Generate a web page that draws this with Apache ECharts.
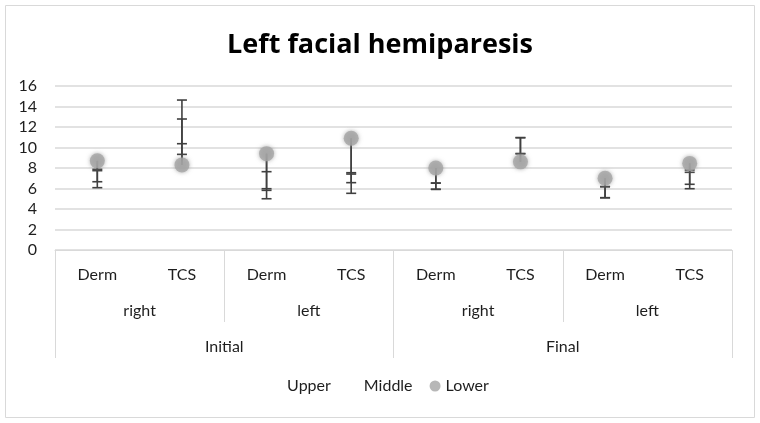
<!DOCTYPE html>
<html>
<head>
<meta charset="utf-8">
<script src="https://cdn.jsdelivr.net/npm/echarts@6/dist/echarts.min.js"></script>
<style>
  html, body { margin: 0; padding: 0; background: #fff; }
  #chart { width: 760px; height: 423px; }
</style>
</head>
<body>
<div id="chart"></div>
<script>
// axis levels
var groups = ['Derm', 'TCS', 'Derm', 'TCS', 'Derm', 'TCS', 'Derm', 'TCS'];
var sides = ['right', 'left', 'right', 'left'];
var phases = ['Initial', 'Final'];

// Lower (marker) values
var lower = [8.7, 8.3, 9.4, 10.9, 8.0, 8.6, 7.0, 8.45];
// error bar ends, Upper series
var upperHigh = [7.87, 14.63, 7.64, 7.54, 6.53, 10.96, 6.18, 7.8];
var upperLow = [6.66, 10.37, 5.98, 6.57, 5.92, 9.4, 5.1, 6.41];
// error bar ends, Middle series
var middleHigh = [7.74, 12.78, 5.82, 7.41, 6.53, 10.96, 6.18, 7.58];
var middleLow = [6.08, 9.33, 5.0, 5.53, 5.92, 9.4, 5.1, 5.98];

var font = 'Lato';
var txt = '#1e1e1e';
var gridCol = '#d9d9d9';

function barData(hi, lo) {
  return hi.map(function (h, i) { return [i, h, lo[i], lower[i]]; });
}

function renderBar(params, api) {
  var x = api.value(0);
  var hi = api.value(1), lo = api.value(2), m = api.value(3);
  var top = api.coord([x, Math.max(hi, lo, m)]);
  var bot = api.coord([x, Math.min(hi, lo, m)]);
  var pHi = api.coord([x, hi]);
  var pLo = api.coord([x, lo]);
  var w = 5;
  var st = { stroke: '#404040', lineWidth: 1.6 };
  return {
    type: 'group',
    children: [
      { type: 'line', shape: { x1: top[0], y1: top[1], x2: bot[0], y2: bot[1] }, style: st },
      { type: 'line', shape: { x1: pHi[0] - w, y1: pHi[1], x2: pHi[0] + w, y2: pHi[1] }, style: st },
      { type: 'line', shape: { x1: pLo[0] - w, y1: pLo[1], x2: pLo[0] + w, y2: pLo[1] }, style: st }
    ]
  };
}

var chart = echarts.init(document.getElementById('chart'));
chart.setOption({
  animation: false,
  textStyle: { fontFamily: font },
  title: {
    text: 'Left facial hemiparesis',
    left: 'center',
    top: 27,
    textStyle: { fontFamily: 'Open Sans', fontSize: 27, fontWeight: 'bold', color: '#000' }
  },
  graphic: [{
    type: 'rect',
    shape: { x: 5.5, y: 5.5, width: 749, height: 412 },
    style: { fill: 'none', stroke: gridCol, lineWidth: 1 },
    silent: true
  }],
  legend: {
    bottom: 24,
    left: 'center',
    itemWidth: 11,
    itemHeight: 11,
    itemGap: 17,
    textStyle: { fontFamily: font, fontSize: 16, color: txt },
    data: [
      { name: 'Upper', icon: 'circle', itemStyle: { color: 'rgba(0,0,0,0)', borderWidth: 0 } },
      { name: 'Middle', icon: 'circle', itemStyle: { color: 'rgba(0,0,0,0)', borderWidth: 0 } },
      { name: 'Lower', icon: 'circle', itemStyle: { color: '#a5a5a5' } }
    ]
  },
  grid: { left: 55, right: 28, top: 86, bottom: 173 },
  xAxis: [{
    type: 'category',
    data: groups,
    position: 'bottom',
    axisLine: { show: true, lineStyle: { color: gridCol, width: 1 } },
    axisTick: { show: false },
    axisLabel: { margin: 17, fontSize: 16, color: txt, fontFamily: font, interval: 0 }
  }, {
    type: 'category',
    data: sides,
    position: 'bottom',
    axisLine: { show: false },
    axisTick: { show: true, length: 72, interval: 0, lineStyle: { color: gridCol, width: 1 } },
    axisLabel: { margin: 53, fontSize: 16, color: txt, fontFamily: font, interval: 0 }
  }, {
    type: 'category',
    data: phases,
    position: 'bottom',
    axisLine: { show: false },
    axisTick: { show: true, length: 108, interval: 0, lineStyle: { color: gridCol, width: 1 } },
    axisLabel: { margin: 89, fontSize: 16, color: txt, fontFamily: font, interval: 0 }
  }],
  yAxis: {
    type: 'value',
    min: 0,
    max: 16,
    interval: 2,
    axisLine: { show: false },
    axisTick: { show: false },
    axisLabel: { fontSize: 16, color: txt, fontFamily: font, margin: 18 },
    splitLine: { lineStyle: { color: gridCol, width: 1.5 } }
  },
  series: [{
    name: 'Upper',
    type: 'custom',
    xAxisIndex: 0,
    renderItem: renderBar,
    data: barData(upperHigh, upperLow),
    z: 3
  }, {
    name: 'Middle',
    type: 'custom',
    xAxisIndex: 0,
    renderItem: renderBar,
    data: barData(middleHigh, middleLow),
    z: 3
  }, {
    name: 'Lower',
    type: 'scatter',
    xAxisIndex: 0,
    symbol: 'circle',
    symbolSize: 15,
    itemStyle: { color: '#a5a5a5', shadowBlur: 4, shadowColor: 'rgba(150,150,150,0.9)' },
    data: lower,
    z: 5
  }]
});
</script>
</body>
</html>
